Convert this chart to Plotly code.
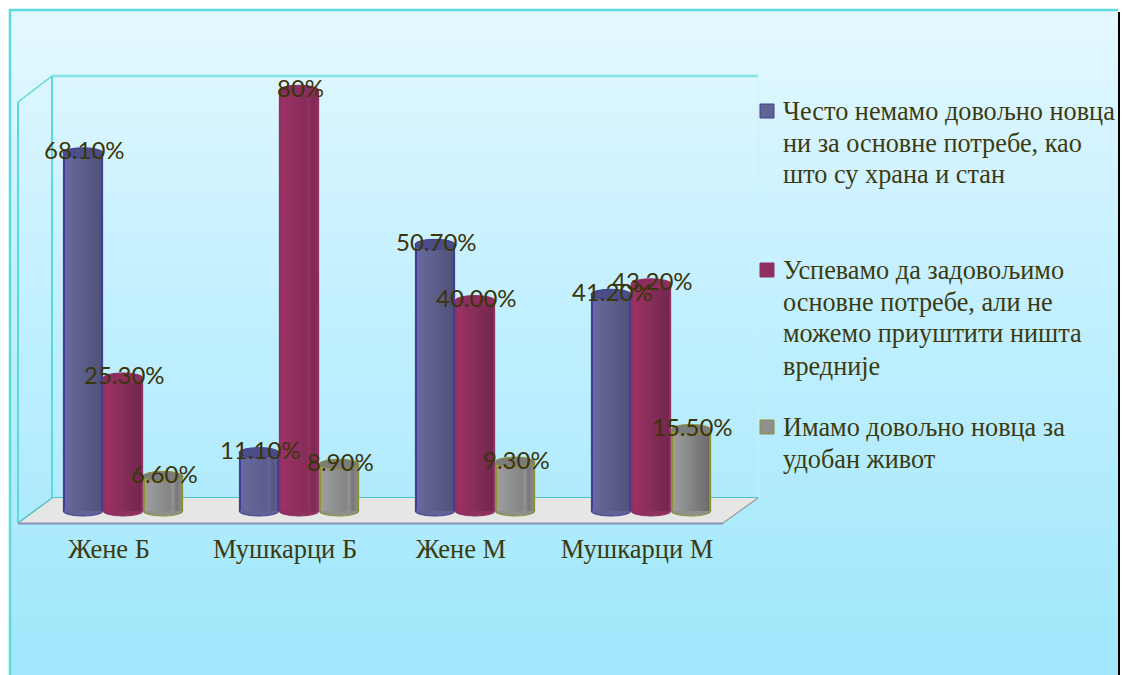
import plotly.graph_objects as go

categories = ["Жене Б", "Мушкарци Б", "Жене М", "Мушкарци М"]
series_names = [
    "Често немамо довољно новца ни за основне потребе, као што су храна и стан",
    "Успевамо да задовољимо основне потребе, али не можемо приуштити ништа вредније",
    "Имамо довољно новца за удобан живот",
]
often_short = [68.1, 11.1, 50.7, 41.2]
basic_only = [25.3, 80.0, 40.0, 43.2]
comfortable = [6.6, 8.9, 9.3, 15.5]
label_often = ["68.10%", "11.10%", "50.70%", "41.20%"]
label_basic = ["25.30%", "80%", "40.00%", "43.20%"]
label_comf = ["6.60%", "8.90%", "9.30%", "15.50%"]
legend_lines = [
    ["Често немамо довољно новца", "ни за основне потребе, као", "што су храна и стан"],
    ["Успевамо да задовољимо", "основне потребе, али не", "можемо приуштити ништа", "вредније"],
    ["Имамо довољно новца за", "удобан живот"],
]

W, H = 1122, 675
PL, PR, PT, PB = 21, 725, 60, 524
SPX = 704 / 4           # px per category
ZERO_PX, PX_PER_PCT = 511, 5.26
YMAX = (ZERO_PX - PT) / PX_PER_PCT
YMIN = (ZERO_PX - PB) / PX_PER_PCT


def xp(px):
    return (px - PL) / (PR - PL)


def yp(py):
    return (PB - py) / (PB - PT)


def mix(a, b, t):
    c = [round(a[i] + (b[i] - a[i]) * t) for i in range(3)]
    return f"rgb({c[0]},{c[1]},{c[2]})"


def hexmix(stops, t):
    return mix(stops[0], stops[1], t)


styles = [
    dict(l=(104, 106, 158), r=(80, 82, 120), top="#4b4e86", edge="#3c3f98", lab=label_often, vals=often_short,
         ridged=[False, True, False, False]),
    dict(l=(156, 50, 102), r=(114, 40, 78), top="#8b2d5d", edge="#8f2f60", lab=label_basic, vals=basic_only,
         ridged=[False, True, False, False]),
    dict(l=(158, 158, 158), r=(108, 108, 108), top="#7c7c7c", edge="#8f8f30", lab=label_comf, vals=comfortable,
         ridged=[True, True, True, False]),
]

BAR_PX = 40
CENTER_SHIFT = 14 / SPX
STEP = 40 / SPX
N = 10
TS_SMOOTH = [0, .11, .22, .33, .44, .56, .67, .78, .89, 1]
TS_RIDGED = [0, .08, .16, .24, .32, .4, .48, .3, .7, .5]

fig = go.Figure()
shapes = []
annotations = []

# background gradient + frame
BANDS = 66
top_c, mid_c, bot_c = (228, 248, 255), (200, 241, 255), (160, 231, 252)
for b in range(BANDS):
    t = b / (BANDS - 1)
    col = mix(top_c, mid_c, t / 0.35) if t < 0.35 else mix(mid_c, bot_c, (t - 0.35) / 0.65)
    y0 = 10 + (H - 10) * b / BANDS
    y1 = 10 + (H - 10) * (b + 1) / BANDS + 1
    shapes.append(dict(type="rect", xref="paper", yref="paper", layer="below",
                       x0=xp(10), x1=xp(1118), y0=yp(y0), y1=yp(y1), fillcolor=col, line_width=0))


def seg(x0, y0, x1, y1, color, width=1.5, layer="below"):
    shapes.append(dict(type="line", xref="paper", yref="paper", layer=layer,
                       x0=xp(x0), x1=xp(x1), y0=yp(y0), y1=yp(y1), line=dict(color=color, width=width)))


seg(9, 10, 1118, 10, "#5adada", 2.5)
seg(10, 10, 10, 675, "#5adada", 2.5)
seg(1119, 12, 1119, 675, "#000000", 2)

# 3-D walls and floor
seg(52, 76, 758, 76, "#86e4e6", 2.5)
seg(52, 76, 52, 498, "#5adada", 2)
seg(758, 76, 758, 498, "#c4f2f6", 1)
seg(18, 102, 52, 76, "#5adada", 1.5)
seg(18, 102, 18, 523, "#5adada", 2)
seg(52, 498, 758, 498, "#4cc4c6", 2)
shapes.append(dict(type="path", xref="paper", yref="paper", layer="below",
                   path=f"M {xp(52)} {yp(498)} L {xp(758)} {yp(498)} L {xp(723)} {yp(523)} L {xp(18)} {yp(523)} Z",
                   fillcolor="#e6e6e6", line_width=0))
seg(18, 523, 52, 498, "#4cc4c6", 1.5)
seg(18, 523.5, 723, 523.5, "#8c90b4", 2)
seg(723, 523, 758, 498, "#9a9a9a", 1.2)

# cylinders
RX = BAR_PX / 2 / SPX
RY = 5 / PX_PER_PCT
for s, st in enumerate(styles):
    offs = [i + CENTER_SHIFT + (s - 1) * STEP for i in range(4)]
    strip_w = BAR_PX / N / SPX
    for k in range(N):
        xs = [o - RX + (k + 0.5) * strip_w for o in offs]
        cols = [hexmix((st["l"], st["r"]), (TS_RIDGED if st["ridged"][i] else TS_SMOOTH)[k]) for i in range(4)]
        fig.add_trace(go.Bar(x=xs, y=st["vals"], width=strip_w + 0.0015,
                             marker=dict(color=cols, line_width=0), showlegend=False, hoverinfo="skip"))
    edge_w = 1.6 / SPX
    for xe in (-RX + edge_w / 2, RX - edge_w / 2):
        fig.add_trace(go.Bar(x=[o + xe for o in offs], y=st["vals"], width=edge_w,
                             marker=dict(color=st["edge"], line_width=0), showlegend=False, hoverinfo="skip"))
    for i, o in enumerate(offs):
        v = st["vals"][i]
        # base ellipse (below the bars)
        shapes.append(dict(type="circle", xref="x", yref="y", layer="between",
                           x0=o - RX, x1=o + RX, y0=-RY, y1=RY,
                           fillcolor=hexmix((st["l"], st["r"]), 0.3), line=dict(color=st["edge"], width=1)))
        # top ellipse
        shapes.append(dict(type="circle", xref="x", yref="y", layer="above",
                           x0=o - RX, x1=o + RX, y0=v - RY, y1=v + RY,
                           fillcolor=st["top"], line=dict(color=st["edge"], width=1)))
        annotations.append(dict(x=o, y=v, xref="x", yref="y", text=st["lab"][i], showarrow=False,
                                xanchor="center", yanchor="middle", xshift=1, yshift=3,
                                font=dict(family="Lato", size=24, color="#3a350a")))

# legend
leg_tops = [111, 270, 427]
for s, (st, lines, ly) in enumerate(zip(styles, legend_lines, leg_tops)):
    shapes.append(dict(type="rect", xref="paper", yref="paper", layer="above",
                       x0=xp(760), x1=xp(774), y0=yp(ly - 7), y1=yp(ly + 7),
                       fillcolor=mix(st["l"], st["r"], 0.3), line=dict(color=st["edge"], width=1)))
    for j, line in enumerate(lines):
        annotations.append(dict(x=xp(781), y=yp(ly + j * 32), xref="paper", yref="paper", text=line,
                                showarrow=False, xanchor="left", yanchor="middle",
                                font=dict(family="Liberation Serif", size=26.25, color="#3b3a10")))

fig.update_layout(
    width=W, height=H, autosize=False,
    margin=dict(l=PL, r=W - PR, t=PT, b=H - PB, pad=0),
    paper_bgcolor="white", plot_bgcolor="rgba(0,0,0,0)",
    barmode="overlay", showlegend=False, shapes=shapes, annotations=annotations,
    xaxis=dict(range=[-0.5, 3.5], tickmode="array", tickvals=list(range(4)), ticktext=categories,
               showgrid=False, zeroline=False, showline=False, ticks="outside", ticklen=1,
               tickcolor="rgba(0,0,0,0)",
               tickfont=dict(family="Liberation Serif", size=26.5, color="#3b3a10")),
    yaxis=dict(range=[YMIN, YMAX], visible=False, showgrid=False, zeroline=False),
)
fig.write_html("out.html", config={"displayModeBar": False},
               post_script="document.body.style.margin='0';document.body.style.overflow='hidden';")
